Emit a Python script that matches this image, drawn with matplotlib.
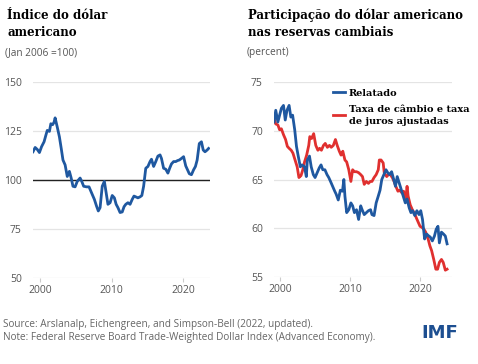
import numpy as np
import matplotlib
matplotlib.use("Agg")
from matplotlib import pyplot as plt

# Dollar index (Jan 2006 = 100)
idx_years = [1999.0, 1999.3, 1999.6, 1999.9, 2000.2, 2000.55, 2000.8, 2001.0, 2001.3, 2001.5,
             2001.75, 2001.95, 2002.1, 2002.4, 2002.7, 2002.96, 2003.2, 2003.5, 2003.8, 2004.1,
             2004.35, 2004.6, 2004.9, 2005.2, 2005.6, 2005.83, 2006.1, 2006.5, 2006.85, 2007.2,
             2007.6, 2007.9, 2008.15, 2008.4, 2008.7, 2009.0, 2009.25, 2009.5, 2009.8, 2010.1,
             2010.4, 2010.65, 2010.9, 2011.2, 2011.5, 2011.76, 2012.0, 2012.3, 2012.6, 2012.9,
             2013.15, 2013.4, 2013.7, 2014.0, 2014.25, 2014.5, 2014.8, 2015.1, 2015.4, 2015.6,
             2015.9, 2016.2, 2016.5, 2016.8, 2017.0, 2017.3, 2017.6, 2017.9, 2018.15, 2018.4,
             2018.7, 2019.0, 2019.25, 2019.5, 2019.8, 2020.1, 2020.4, 2020.65, 2020.9, 2021.2,
             2021.5, 2021.76, 2022.0, 2022.3, 2022.6, 2022.85, 2023.1, 2023.4, 2023.6]
idx_values = [114.4, 116.6, 115.6, 114.0, 117.0, 119.5, 122.8, 125.3, 124.8, 128.7,
              128.2, 129.5, 131.7, 127.0, 122.0, 116.0, 110.2, 107.7, 101.8, 104.4,
              101.0, 96.8, 96.5, 99.3, 101.0, 99.3, 96.8, 96.5, 96.5, 93.5,
              90.1, 86.7, 84.2, 85.9, 96.8, 99.3, 93.5, 87.6, 88.4, 92.1,
              90.9, 87.6, 85.9, 83.4, 83.7, 86.4, 87.6, 88.4, 87.6, 90.1,
              91.8, 91.4, 90.9, 91.4, 92.1, 96.8, 106.0, 106.9, 109.4, 110.6,
              106.9, 109.4, 112.2, 112.8, 111.0, 106.0, 105.5, 103.5, 106.0, 108.2,
              109.4, 109.4, 109.9, 110.2, 111.0, 111.9, 107.2, 105.2, 103.2, 102.7,
              105.2, 106.9, 110.2, 118.6, 119.5, 115.3, 114.4, 115.3, 116.1]

# Share of USD in reserves, reported
rep_years = [1999.15, 1999.4, 1999.7, 1999.95, 2000.2, 2000.5, 2000.75, 2001.0, 2001.3, 2001.55,
             2001.8, 2002.1, 2002.35, 2002.6, 2002.9, 2003.15, 2003.5, 2003.75, 2003.9, 2004.2,
             2004.45, 2004.75, 2005.0, 2005.3, 2005.6, 2005.85, 2006.1, 2006.4, 2006.7, 2006.95,
             2007.2, 2007.5, 2007.8, 2008.0, 2008.3, 2008.6, 2008.9, 2009.1, 2009.25, 2009.5,
             2009.8, 2010.1, 2010.35, 2010.6, 2010.9, 2011.2, 2011.5, 2011.7, 2012.0, 2012.3,
             2012.6, 2012.9, 2013.1, 2013.4, 2013.7, 2014.0, 2014.25, 2014.5, 2014.8, 2015.1,
             2015.35, 2015.6, 2015.9, 2016.2, 2016.45, 2016.7, 2017.0, 2017.3, 2017.55, 2017.85,
             2018.1, 2018.4, 2018.65, 2018.9, 2019.2, 2019.5, 2019.8, 2020.05, 2020.3, 2020.6,
             2020.9, 2021.2, 2021.4, 2021.7, 2022.0, 2022.25, 2022.5, 2022.7, 2023.0, 2023.3,
             2023.55, 2023.8]
rep_values = [70.9, 72.1, 70.9, 71.6, 72.3, 72.6, 71.1, 72.1, 72.6, 71.4,
              71.6, 70.1, 68.4, 67.4, 66.3, 66.5, 66.3, 65.3, 67.0, 67.4,
              66.3, 65.5, 65.2, 65.7, 66.2, 66.5, 66.0, 66.0, 65.5, 65.2,
              64.8, 64.3, 63.8, 63.5, 62.9, 63.9, 63.8, 65.0, 63.3, 61.6,
              61.9, 62.6, 62.3, 61.6, 61.9, 60.9, 62.3, 61.9, 61.4, 61.6,
              61.8, 61.9, 61.4, 61.3, 62.6, 63.3, 63.9, 65.0, 65.5, 66.0,
              65.7, 65.5, 65.8, 65.0, 64.3, 65.3, 64.6, 63.9, 63.3, 62.6,
              63.0, 62.1, 61.6, 61.8, 61.3, 61.8, 61.4, 61.8, 60.9, 58.9,
              59.4, 59.2, 59.1, 58.7, 59.2, 59.9, 60.2, 58.5, 59.6, 59.4,
              59.2, 58.4]

# Share of USD in reserves, exchange-rate and interest-rate adjusted
adj_years = [1999.15, 1999.4, 1999.7, 1999.95, 2000.2, 2000.5, 2000.8, 2001.05, 2001.3, 2001.6,
             2001.85, 2002.15, 2002.45, 2002.7, 2003.0, 2003.25, 2003.5, 2003.8, 2004.1, 2004.25,
             2004.5, 2004.8, 2005.1, 2005.4, 2005.65, 2005.9, 2006.2, 2006.45, 2006.75, 2007.05,
             2007.3, 2007.6, 2007.9, 2008.15, 2008.45, 2008.7, 2008.95, 2009.25, 2009.5, 2009.8,
             2010.1, 2010.35, 2010.6, 2010.9, 2011.2, 2011.5, 2011.75, 2012.0, 2012.3, 2012.6,
             2012.85, 2013.1, 2013.4, 2013.7, 2014.0, 2014.15, 2014.4, 2014.7, 2014.85, 2015.2,
             2015.45, 2015.7, 2016.0, 2016.25, 2016.5, 2016.8, 2017.05, 2017.4, 2017.6, 2017.9,
             2018.1, 2018.25, 2018.55, 2018.85, 2019.1, 2019.4, 2019.7, 2019.95, 2020.2, 2020.5,
             2020.75, 2021.1, 2021.35, 2021.6, 2021.9, 2022.2, 2022.45, 2022.7, 2023.0, 2023.25,
             2023.55, 2023.8]
adj_values = [71.3, 70.7, 70.6, 70.1, 70.2, 69.6, 69.1, 68.4, 68.2, 68.0,
              67.7, 67.0, 66.3, 65.2, 65.4, 66.0, 66.8, 67.5, 68.5, 69.4,
              69.2, 69.7, 68.5, 68.0, 68.2, 68.0, 68.5, 68.7, 68.3, 68.5,
              68.3, 68.5, 69.1, 68.5, 67.9, 67.5, 67.9, 67.0, 66.8, 66.0,
              64.8, 66.0, 65.8, 65.8, 65.7, 65.5, 65.3, 64.5, 64.8, 64.6,
              64.8, 64.8, 65.2, 65.5, 66.0, 67.0, 67.0, 66.7, 65.7, 65.3,
              65.5, 65.5, 65.2, 64.8, 64.3, 63.8, 63.9, 63.6, 63.8, 62.9,
              64.3, 63.3, 62.4, 61.9, 61.6, 61.1, 60.6, 60.2, 60.1, 59.9,
              59.6, 58.9, 58.2, 57.7, 56.8, 55.8, 55.8, 56.5, 56.8, 56.5,
              55.7, 55.8]

blue = "#1f58a0"
red = "#e0302f"
grid_c = "#e4e4e4"
tick_c = "#555555"
title_font = "DejaVu Serif"
sans = "Open Sans"

fig = plt.figure(figsize=(4.78, 3.64), dpi=100)


def style_axes(ax, yticks):
    for s in ax.spines.values():
        s.set_visible(False)
    ax.set_yticks(yticks)
    for y in yticks:
        ax.axhline(y, color=grid_c, lw=0.9, zorder=0)
    ax.set_xticks([2000, 2010, 2020])
    ax.tick_params(axis="y", length=0, pad=8, labelsize=7.5, labelcolor=tick_c)
    ax.tick_params(axis="x", length=3, color="#cccccc", pad=2, labelsize=7.5, labelcolor=tick_c)
    for lbl in ax.get_xticklabels() + ax.get_yticklabels():
        lbl.set_family(sans)


# left panel
ax1 = fig.add_axes([33 / 478, 1 - 278 / 364, 177 / 478, 196 / 364])
ax1.set_ylim(50, 150)
ax1.set_xlim(1999.0, 2023.8)
style_axes(ax1, [50, 75, 100, 125, 150])
ax1.axhline(100, color="#222222", lw=1.0, zorder=1)
ax1.plot(idx_years, idx_values, color=blue, lw=2.0, zorder=3)

# right panel
ax2 = fig.add_axes([274 / 478, 1 - 277 / 364, 178 / 478, 195 / 364])
ax2.set_ylim(55, 75)
ax2.set_xlim(1999.15, 2024.5)
style_axes(ax2, [55, 60, 65, 70, 75])
ax2.plot(rep_years, rep_values, color=blue, lw=2.0, zorder=3, label="Relatado")
ax2.plot(adj_years, adj_values, color=red, lw=2.0, zorder=2,
         label="Taxa de câmbio e taxa\nde juros ajustadas")
leg = ax2.legend(loc="upper left", bbox_to_anchor=(0.3, 0.995), frameon=False,
                 handlelength=1.2, handletextpad=0.4, labelspacing=0.75,
                 borderaxespad=0.2, prop={"family": title_font, "weight": "bold", "size": 7})
for t in leg.get_texts():
    t.set_linespacing(1.35)

# titles
fig.text(7 / 478, 1 - 9 / 364, "Índice do dólar\namericano", family=title_font,
         weight="bold", size=8.5, va="top", ha="left", linespacing=1.35)
fig.text(5 / 478, 1 - 53 / 364, "(Jan 2006 =100)", family=sans, size=7.3,
         color=tick_c, va="center", ha="left")
fig.text(248 / 478, 1 - 9 / 364, "Participação do dólar americano\nnas reservas cambiais",
         family=title_font, weight="bold", size=8.5, va="top", ha="left", linespacing=1.35)
fig.text(247 / 478, 1 - 53 / 364, "(percent)", family=sans, size=7.3,
         color=tick_c, va="center", ha="left")

# footer
fig.text(3 / 478, 1 - 331 / 364,
         "Source: Arslanalp, Eichengreen, and Simpson-Bell (2022, updated).\n"
         "Note: Federal Reserve Board Trade-Weighted Dollar Index (Advanced Economy).",
         family=sans, size=7.2, color="#666666", va="center", ha="left", linespacing=1.2)
fig.text(439.5 / 478, 1 - 333 / 364, "IMF", family="DejaVu Sans", weight="bold",
         size=13, color="#1d4f91", va="center", ha="center")

fig.savefig("out.png", dpi=100)
